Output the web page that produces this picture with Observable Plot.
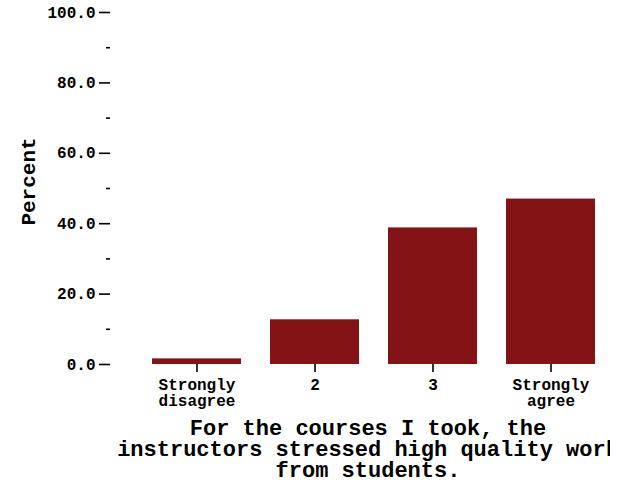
<!DOCTYPE html>
<html>
<head>
<meta charset="utf-8">
<script src="https://cdn.jsdelivr.net/npm/d3@7"></script>
<script src="https://cdn.jsdelivr.net/npm/@observablehq/plot@0.6"></script>
<style>
  html, body { margin: 0; padding: 0; background: #fff; }
  #chart { width: 610px; height: 486px; overflow: hidden; }
  #chart svg { display: block; max-width: none !important; width: 633px; height: 486px; }
</style>
</head>
<body>
<div id="chart"></div>
<script>
const categories = ["Strongly disagree", "2", "3", "Strongly agree"];
const tickLabels = ["Strongly\ndisagree", "2", "3", "Strongly\nagree"];
const percents = [1.6, 12.7, 38.8, 47.0];
const majorTicks = [0, 20, 40, 60, 80, 100];
const minorTicks = [10, 30, 50, 70, 90];
const yLabel = "Percent";
const title = "For the courses I took, the\ninstructors stressed high quality work\nfrom students.";

const data = categories.map((c, i) => ({category: c, percent: percents[i]}));
const labelOf = new Map(categories.map((c, i) => [c, tickLabels[i]]));

const font = "'Liberation Mono', 'Courier New', monospace";

const chart = Plot.plot({
  width: 633,
  height: 486,
  marginLeft: 110,
  marginRight: 8,
  marginTop: 12,
  marginBottom: 122,
  style: {fontFamily: font, fontWeight: "bold", fontSize: "16px", color: "#000", background: "#fff"},
  x: {domain: categories, range: [121.4, 624.6], padding: 0.25, align: 0.5},
  y: {domain: [0, 100]},
  marks: [
    Plot.barY(data, {x: "category", y: "percent", fill: "#841316"}),
    Plot.axisY({ticks: majorTicks, tickSize: 11, tickPadding: 4, tickFormat: d3.format(".1f"),
      label: null, fontSize: 16, strokeWidth: 1.6}),
    Plot.axisY({ticks: minorTicks, tickSize: 4, tickFormat: () => "", label: null, strokeWidth: 1.6}),
    Plot.axisX({tickSize: 8, tickPadding: 6, tickFormat: d => labelOf.get(d), label: null, lineHeight: 1.0, fontSize: 16, strokeWidth: 1.6}),
    Plot.text([yLabel], {text: d => d, frameAnchor: "left", textAnchor: "middle", rotate: -90, dx: -82, dy: -7, fontSize: 21, fontWeight: "bold"}),
    Plot.text([title], {text: d => d, frameAnchor: "bottom", lineAnchor: "top", dy: 55, lineHeight: 0.97, fontSize: 22, fontWeight: "bold"})
  ]
});
document.getElementById("chart").appendChild(chart);
</script>
</body>
</html>
